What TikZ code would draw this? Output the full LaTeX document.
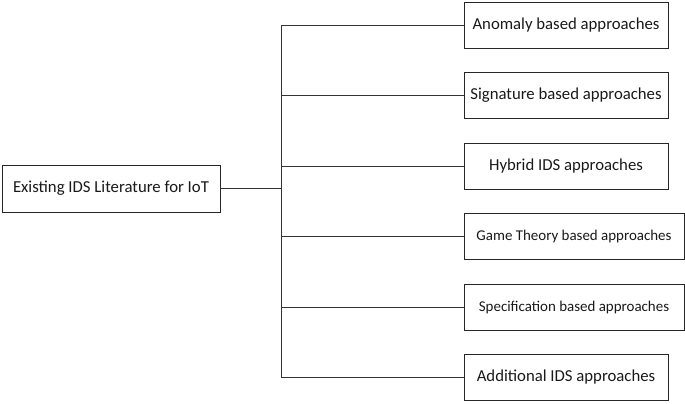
\documentclass[tikz,border=0pt]{standalone}
\usepackage{fontspec}
\setmainfont{Carlito}
\usetikzlibrary{positioning}

\begin{document}
\begin{tikzpicture}[x=1bp, y=-1bp, line width=0.8bp,
    box/.style={draw=black!85, rectangle, inner sep=0pt, minimum height=46bp, minimum width=204bp, text=black!90, font=\fontsize{16.8}{19}\selectfont},
    widebox/.style={box, minimum width=220bp, font=\fontsize{15}{17}\selectfont},
    link/.style={draw=black!80}]
    \useasboundingbox (0,0) rectangle (685,403);
    % root
    \node[box, minimum width=218bp, minimum height=47bp] (root) at (111,188.5) {Existing IDS Literature for IoT};
    \coordinate (trunk) at (281,188.5);
    % approaches
    \node[box] (anomaly) at (566,25) {Anomaly based approaches};
    \node[box] (signature) at (566,95.5) {Signature based approaches};
    \node[box] (hybrid) at (566,166) {Hybrid IDS approaches};
    \node[widebox] (game) at (574,236.5) {Game Theory based approaches};
    \node[widebox] (spec) at (574,307.5) {Specification based approaches};
    \node[box] (additional) at (566,377.5) {Additional IDS approaches};
    % connectors
    \draw[link] (root.east) -- (trunk);
    \draw[link] (trunk |- anomaly.west) -- (trunk |- additional.west);
    \foreach \n in {anomaly, signature, hybrid, game, spec, additional}
        \draw[link] (trunk |- \n.west) -- (\n.west);
\end{tikzpicture}
\end{document}
